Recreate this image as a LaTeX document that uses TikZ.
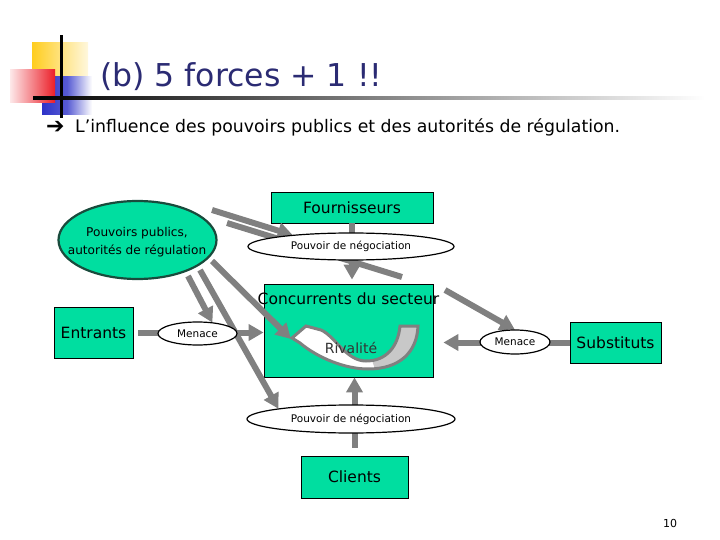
\documentclass[tikz,border=0pt]{standalone}
\usepackage{fontspec}
\setmainfont{DejaVu Sans}
\usetikzlibrary{arrows.meta,shapes.geometric}
\definecolor{turq}{RGB}{0,222,160}
\definecolor{pgreen}{RGB}{25,75,60}
\definecolor{garrow}{RGB}{128,128,128}
\definecolor{lgray}{RGB}{200,200,200}
\definecolor{navy}{RGB}{43,43,115}
\definecolor{ylw}{RGB}{255,205,30}
\definecolor{rd}{RGB}{235,30,40}
\definecolor{bl}{RGB}{45,50,200}
\begin{document}
\begin{tikzpicture}[x=1pt,y=-1pt,
  box/.style={draw=black, line width=0.8pt, fill=turq, inner sep=0pt, font=\fontsize{15.5}{18}\selectfont},
  wellip/.style={ellipse, draw=black, line width=1.2pt, fill=white, inner sep=0pt, font=\fontsize{10.5}{12}\selectfont},
  garr/.style={draw=garrow, line width=6pt, -{Triangle[width=16pt,length=15pt]}},
  gline/.style={draw=garrow, line width=6pt}]
\useasboundingbox (0,0) rectangle (720,540);
% title decoration
\shade[left color=ylw, right color=ylw!15!white] (32,43) rectangle (88,90);
\shade[left color=bl, right color=white, middle color=bl!80!white] (42,77) rectangle (92,115);
\shade[left color=rd!10!white, right color=rd] (10,70) rectangle (55,103);
\fill[black] (60,35) rectangle (62.5,118);
\shade[left color=black, right color=white, middle color=gray] (33,96.5) rectangle (705,99.5);
\node[anchor=base west, inner sep=0pt, text=navy, font=\fontsize{31.5}{36}\selectfont] (title) at (100,86.5) {(b) 5 forces + 1 !!};
\node[anchor=base west, inner sep=0pt, font=\fontsize{22}{24}\selectfont] (arrowsym) at (46,134) {➔};
\node[anchor=base west, inner sep=0pt, font=\fontsize{17.3}{20}\selectfont] (subtitle) at (75,133) {L’influence des pouvoirs publics et des autorités de régulation.};
% boxes
\node[box, minimum width=169pt, minimum height=93pt] (C) at (348.5,330.5) {};
\node[box, minimum width=162pt, minimum height=31pt] (F) at (352,207.5) {Fournisseurs};
\node[box, minimum width=79pt, minimum height=51pt] (E) at (93.5,332.5) {Entrants};
\node[box, minimum width=91pt, minimum height=41pt] (S) at (615.5,342.5) {Substituts};
\node[box, minimum width=107pt, minimum height=42pt] (Cl) at (354.5,477) {Clients};
% rivalry shape
\def\rivpath{(400,326) -- (418,326) .. controls (417,352) and (400,369) .. (368,369) .. controls (345,369) and (318,358) .. (300,343) -- (292,338) -- (306,326) -- (321,330) .. controls (335,336) and (346,361) .. (366,361) .. controls (386,361) and (398,347) .. (400,326) -- cycle}
\fill[white] \rivpath;
\fill[lgray] (400,326) -- (418,326) .. controls (417,352) and (400,369) .. (375,369) -- (372,360.5) .. controls (388,359) and (398,346) .. (400,326) -- cycle;
\draw[garrow, line width=3pt, line join=miter] \rivpath;
\node[inner sep=0pt, text=black!80, font=\fontsize{14}{16}\selectfont] (riv) at (351,348) {Rivalité};
\node[inner sep=0pt, font=\fontsize{15.5}{18}\selectfont] (Ct) at (348.5,299) {Concurrents du secteur};
% ellipse nodes (placed now for anchors, redrawn later)
\node[ellipse, minimum width=206pt, minimum height=27pt, inner sep=0pt] (PN1) at (351,246.5) {};
\node[ellipse, minimum width=208pt, minimum height=28pt, inner sep=0pt] (PN2) at (351,419) {};
\node[ellipse, minimum width=79pt, minimum height=23pt, inner sep=0pt] (M1) at (197.5,333.5) {};
\node[ellipse, minimum width=70pt, minimum height=24pt, inner sep=0pt] (M2) at (515,342) {};
% main arrows
\draw[garr, shorten >=4pt] (F.south) -- (F.south |- C.north);
\draw[garr, shorten <=8pt] (Cl.north) -- (Cl.north |- C.south);
\draw[garr, shorten <=5pt] (E.east) -- (E.east -| C.west);
\draw[garr, shorten >=10pt] (S.west) -- (S.west -| C.east);
% lines from public authorities
\coordinate (a1) at (212,210);
\coordinate (a2) at (227,223);
\coordinate (a2e) at (402,277);
\coordinate (b2) at (445,290);
\coordinate (a3) at (188,276);
\coordinate (a4) at (200,270);
\coordinate (a5) at (212,261);
\coordinate (rtip) at (291,339);
\draw[garr] (a1) -- (PN1.169);
\draw[gline] (a2) -- (a2e);
\draw[garr] (b2) -- (M2.north);
\draw[garr] (a3) -- (M1.36);
\draw[garr] (a4) -- (PN2.172);
\draw[garr] (a5) -- (rtip);
% white ellipses on top
\node[wellip, minimum width=206pt, minimum height=27pt] at (PN1) {Pouvoir de négociation};
\node[wellip, minimum width=208pt, minimum height=28pt] at (PN2) {Pouvoir de négociation};
\node[wellip, minimum width=79pt, minimum height=23pt] at (M1) {Menace};
\node[wellip, minimum width=70pt, minimum height=24pt] at (M2) {Menace};
% public authorities ellipse
\node[ellipse, draw=pgreen, line width=2.2pt, fill=turq, minimum width=158pt, minimum height=78pt, inner sep=0pt] (PP) at (137.5,240) {};
\node[align=center, inner sep=0pt, font=\fontsize{12.1}{18}\selectfont] (PPt) at (137,242) {Pouvoirs publics,\\autorités de régulation};
\node[inner sep=0pt, font=\fontsize{11}{13}\selectfont] (num) at (670,523) {10};
\end{tikzpicture}
\end{document}
